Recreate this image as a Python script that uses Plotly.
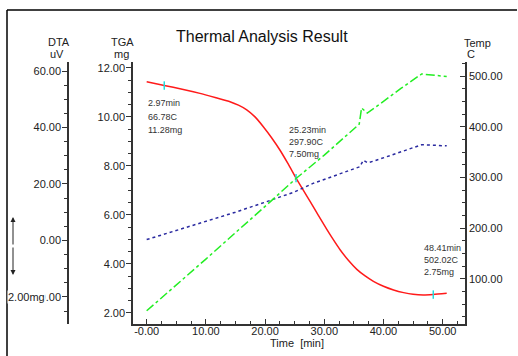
import plotly.graph_objects as go

W, H = 518, 356

# ---------------- data ----------------
tga_time = [0, 2.97, 6, 9, 12, 14.07, 15.5, 16.9, 18.3, 19.7, 21.1, 22.5, 23.9, 25.23, 26.4,
            27.6, 29.0, 30.4, 31.5, 32.7, 34.1, 35.5, 36.9, 38.3, 40.0, 41.7, 43.4, 45.0, 46.7,
            48.41, 50.68]
tga_mg = [11.43, 11.28, 11.13, 10.96, 10.76, 10.62, 10.48, 10.29, 10.00, 9.60, 9.15, 8.65, 8.08,
          7.50, 7.03, 6.55, 5.98, 5.42, 5.00, 4.57, 4.14, 3.78, 3.51, 3.29, 3.09, 2.94, 2.83,
          2.76, 2.73, 2.75, 2.80]

temp_time = [0, 2.97, 10, 20, 25.23, 30, 35.9, 36.3, 37.26, 40, 43, 46.45, 48.41, 50.68]
temp_c = [37, 66.78, 139, 243, 297.9, 344, 405, 437, 427, 450, 476, 504, 502.02, 499]

dta_time = [0, 5, 10, 15, 19.8, 22.5, 25, 28.1, 32, 36.0, 36.6, 37.3, 38.5, 40, 43, 46.45,
            48.41, 50.68]
dta_uv = [0.3, 3.5, 6.8, 10.0, 13.4, 15.4, 17.2, 20.2, 23.2, 26.1, 28.4, 27.5, 28.2, 29.2, 31.4,
          33.9, 33.8, 33.5]

mark_time = [2.97, 25.23, 48.41]
mark_mg = [11.28, 7.50, 2.75]
mark_labels = [["2.97min", "66.78C", "11.28mg"],
               ["25.23min", "297.90C", "7.50mg"],
               ["48.41min", "502.02C", "2.75mg"]]

x_ticks = [0, 10, 20, 30, 40, 50]
x_ticktext = ["-0.00", "10.00", "20.00", "30.00", "40.00", "50.00"]
tga_ticks = [2, 4, 6, 8, 10, 12]
dta_ticks = [-20, 0, 20, 40, 60]
temp_ticks = [100, 200, 300, 400, 500]

# ---------------- helpers ----------------
def px(x):
    return x / W

def py(y):
    return 1 - y / H

FONT = "Liberation Sans, Arial, sans-serif"
AX = "#333333"

fig = go.Figure()

fig.add_trace(go.Scatter(x=temp_time, y=temp_c, mode="lines", yaxis="y3",
                         line=dict(color="#22ee22", width=1.5, dash="dashdot"), showlegend=False))
fig.add_trace(go.Scatter(x=dta_time, y=dta_uv, mode="lines", yaxis="y2",
                         line=dict(color="#2a2aa0", width=1.5, dash="dot"), showlegend=False))
fig.add_trace(go.Scatter(x=tga_time, y=tga_mg, mode="lines", yaxis="y",
                         line=dict(color="#ff1a1a", width=1.5, shape="spline", smoothing=0.6),
                         showlegend=False))
fig.add_trace(go.Scatter(x=mark_time, y=mark_mg, mode="markers", yaxis="y",
                         marker=dict(symbol="line-ns", size=6, line=dict(color="#22dddd", width=1.5)),
                         showlegend=False))

xd = [px(133), px(465)]
yd = [py(324), py(62)]

def yax(**kw):
    d = dict(showgrid=False, zeroline=False, showline=True, linecolor=AX, linewidth=1.5,
             tickcolor=AX, ticklen=5, tickwidth=1, automargin=False,
             tickfont=dict(family=FONT, size=11, color="#222222"), domain=yd)
    d.update(kw)
    return d

fig.update_layout(
    width=W, height=H,
    margin=dict(l=0, r=0, t=0, b=0, autoexpand=False),
    paper_bgcolor="white", plot_bgcolor="white",
    xaxis=dict(domain=xd, range=[-2.31, 53.77], showgrid=False, zeroline=False, showline=True,
               automargin=False,
               linecolor=AX, linewidth=1.5, ticks="inside", ticklen=5, tickcolor=AX,
               tickmode="array", tickvals=x_ticks, ticktext=x_ticktext, ticklabelstandoff=-4,
               tickfont=dict(family=FONT, size=11, color="#222222"),
               minor=dict(tickmode="linear", tick0=0, dtick=2.5, ticks="inside", ticklen=3,
                          tickcolor=AX)),
    yaxis=yax(range=[1.55, 12.24], anchor="x", side="left", ticks="outside", ticklabelstandoff=-1,
              tickmode="array", tickvals=tga_ticks, ticktext=[f"{v:.2f}" for v in tga_ticks],
              minor=dict(tickmode="linear", tick0=0, dtick=0.5, ticks="outside", ticklen=3,
                         tickcolor=AX)),
    yaxis2=yax(range=[-29.6, 63.2], overlaying="y", anchor="free", position=px(68), side="left",
               ticks="outside", tickmode="array", tickvals=dta_ticks, ticklabelstandoff=-1,
               ticktext=[f"{v:.2f}" for v in dta_ticks],
               minor=dict(tickmode="linear", tick0=0, dtick=5, ticks="outside", ticklen=3,
                          tickcolor=AX)),
    yaxis3=yax(range=[11, 527.6], overlaying="y", anchor="x", side="right", ticks="inside",
               tickmode="array", tickvals=temp_ticks, ticktext=[f"{v:.2f}" for v in temp_ticks],
               minor=dict(tickmode="linear", tick0=0, dtick=25, ticks="inside", ticklen=3,
                          tickcolor=AX)),
)

# frame
fig.add_shape(type="line", xref="paper", yref="paper", x0=px(7), x1=px(7), y0=py(10), y1=py(360),
              line=dict(color="black", width=1.5))
fig.add_shape(type="line", xref="paper", yref="paper", x0=px(7), x1=px(517), y0=py(10), y1=py(10),
              line=dict(color="black", width=1.5))

ann = []
def text(x, y, s, size=11, anchor="center", color="#222222", **kw):
    ann.append(dict(x=px(x), y=py(y), xref="paper", yref="paper", text=s, showarrow=False,
                    xanchor=anchor, yanchor="middle", font=dict(family=FONT, size=size, color=color),
                    **kw))

text(262, 37, "Thermal Analysis Result", size=16, color="#111111")
text(59, 42, "DTA")
text(57, 54, "uV")
text(122, 42, "TGA")
text(121, 54, "mg")
text(462, 43, "Temp", anchor="left")
text(465, 54, "C", anchor="left")
text(297, 343, "Time\u00a0 [min]")

pos = [(146, [103, 117, 130]), (287, [130, 142, 154]), (422, [248, 260, 272])]
for (x0, ys), lines in zip(pos, mark_labels):
    for yy, s in zip(ys, lines):
        text(x0, yy, s, size=9, anchor="left", color="#333333")

text(7, 297, "2.00mg", anchor="left", bgcolor="white", borderpad=0)

# double arrow
for tip, tail in [(217, 246), (275, 246)]:
    ann.append(dict(x=px(13), y=py(tip), xref="paper", yref="paper", text="", showarrow=True,
                    ax=0, ay=tail - tip, arrowhead=2, arrowsize=1, arrowwidth=1,
                    arrowcolor="#222222"))

fig.update_layout(annotations=ann)

fig.write_html("out.html", post_script="document.body.style.margin='0';",
               config={"displayModeBar": False})
